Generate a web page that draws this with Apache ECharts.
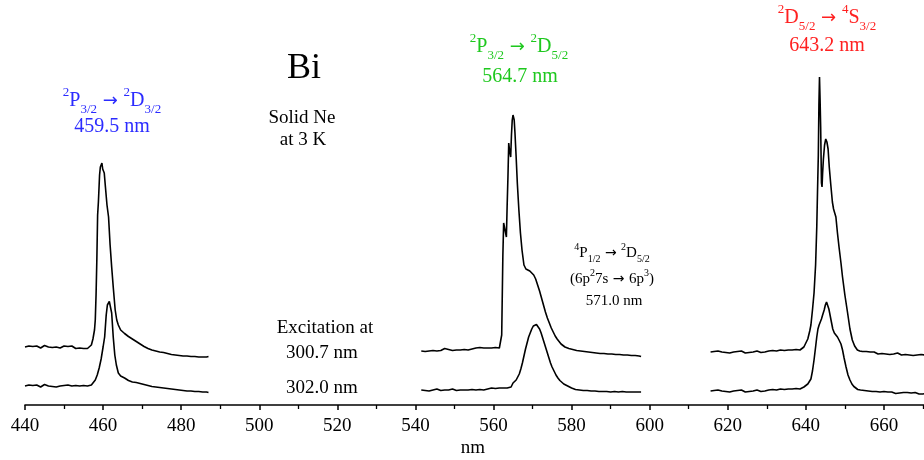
<!DOCTYPE html>
<html>
<head>
<meta charset="utf-8">
<script src="https://cdn.jsdelivr.net/npm/echarts@6/dist/echarts.min.js"></script>
<style>
html,body{margin:0;padding:0;background:#fff;}
#chart{width:924px;height:460px;}
</style>
</head>
<body>
<div id="chart"></div>
<script>
// ---- Data (wavelength nm, intensity in arbitrary units above the axis) ----
const xTicks = [440, 460, 480, 500, 520, 540, 560, 580, 600, 620, 640, 660];

// Excitation 300.7 nm (upper traces)
const upper1 = [[440,58],[440.5,57],[441,59],[441.5,57.5],[442,58.5],[442.5,57],[443,59],[443.5,58],[444,57],[444.5,58.5],[445,59.5],[445.5,57.5],[446,58],[446.5,59],[447,57.5],[447.5,58.5],[448,58],[448.5,59.5],[449,57],[449.5,58],[450,59],[450.5,57.5],[451,58.5],[451.5,57],[452,59],[452.5,58],[453,56.5],[453.5,58],[454,57],[454.5,58.5],[455,56.5],[455.5,57.5],[456,56.5],[456.5,58],[457,60],[457.4,66],[457.8,75],[458,85],[458.2,110],[458.4,145],[458.6,190],[458.8,203],[459,205],[459.1,230],[459.3,238],[459.5,240],[459.7,242],[459.9,236],[460.1,238],[460.3,232],[460.6,218],[461,200],[461.4,188],[461.8,160],[462.2,138],[462.6,118],[463.1,95],[463.5,85],[463.9,80],[464.5,75],[465,73],[465.5,71.5],[466,70],[466.5,68.5],[467,67.5],[467.5,66],[468,65],[468.5,63.5],[469,62],[469.5,61],[470,60],[470.5,58.5],[471,58],[471.5,56.5],[472,56.5],[472.5,55],[473,55.5],[473.5,54],[474,54.5],[474.5,53],[475,53.5],[475.5,52.5],[476,52.5],[476.5,51.5],[477,52],[477.5,50.5],[478,51],[478.5,50],[479,51],[479.5,49.5],[480,50.5],[480.5,49],[481,50],[481.5,49],[482,50],[482.5,48.5],[483,49.5],[483.5,48.5],[484,49.5],[484.5,48],[485,49],[485.5,48],[486,49],[486.5,48],[487,48.5]];

const upper2 = [[541.5,54],[542,55.5],[542.5,53.5],[543,55],[543.5,54],[544,56],[544.5,54.5],[545,55.5],[545.5,54],[546,56],[546.5,54.5],[547,55.5],[547.5,56.5],[548,54.5],[548.5,55.5],[549,56],[549.5,54.5],[550,56.5],[550.5,55],[551,56],[551.5,55],[552,57],[552.5,55.5],[553,56.5],[553.5,55],[554,57],[554.5,56],[555,55],[555.5,57],[556,56],[556.5,57.5],[557,55.5],[557.5,57],[558,56],[558.5,57],[559,55.5],[559.5,57],[560,56.5],[560.5,57.5],[561,56],[561.5,57],[561.9,57],[562.1,70],[562.4,150],[562.6,182],[562.9,184],[563.1,180],[563.3,168],[563.5,200],[563.7,228],[563.9,262],[564.1,255],[564.4,248],[564.6,270],[564.8,285],[565,290],[565.1,292],[565.3,285],[565.5,272],[565.8,248],[566.1,222],[566.5,195],[566.9,172],[567.3,155],[567.8,140],[568.3,136],[568.8,135],[569.3,134],[569.8,133],[570.3,130],[570.8,126],[571.3,120],[571.8,114],[572.3,107],[572.8,100],[573.3,93],[573.8,87],[574.3,82],[574.8,77],[575.3,73],[575.8,69],[576.3,66],[576.8,63.5],[577.3,61],[577.8,59.5],[578.3,58],[578.8,57],[579.3,56.5],[579.8,55],[580.3,55.5],[580.8,54],[581.3,54.5],[581.8,53],[582.3,54],[582.8,52.5],[583.3,53.5],[583.8,52],[584.3,53],[584.8,51.5],[585.3,52.5],[585.8,51],[586.3,52],[586.8,50.5],[587.3,51.5],[587.8,50.5],[588.3,51.5],[588.8,50],[589.3,51],[589.8,50],[590.3,51],[590.8,49.5],[591.3,50.5],[591.8,49.5],[592.3,50.5],[592.8,49],[593.3,50],[593.8,49],[594.3,50],[594.8,48.5],[595.3,49.5],[595.8,48.5],[596.3,49.5],[596.8,48],[597.3,49],[597.8,48.5]];

const upper3 = [[615.6,53],[616,52],[616.5,53.5],[617,52.5],[617.5,54],[618,52],[618.5,53],[619,54],[619.5,52.5],[620,53.5],[620.5,52],[621,54],[621.5,53],[622,52],[622.5,53.5],[623,52.5],[623.5,54],[624,53],[624.5,52],[625,53.5],[625.5,52.5],[626,54],[626.5,53],[627,52],[627.5,54],[628,53],[628.5,52.5],[629,54],[629.5,53],[630,52.5],[630.5,54],[631,53],[631.5,54.5],[632,53],[632.5,54],[633,53.5],[633.5,55],[634,53.5],[634.5,54.5],[635,53.5],[635.5,55],[636,54],[636.5,55],[637,54],[637.5,55.5],[638,54.5],[638.5,55],[639,56],[639.5,58],[640,60],[640.5,66],[641,74],[641.3,80],[641.7,95],[642.1,112],[642.5,140],[642.8,178],[643,215],[643.2,250],[643.35,300],[643.5,328],[643.65,305],[643.8,278],[644,222],[644.15,218],[644.3,232],[644.5,246],[644.8,260],[645.1,266],[645.4,263],[645.7,256],[646,238],[646.4,220],[646.8,203],[647.1,196],[647.4,192],[647.7,188],[648.1,172],[648.5,158],[649,142],[649.4,128],[650,110],[650.7,92],[651.3,76],[651.9,65],[652.5,59],[653.2,55],[653.8,54],[654.5,53.5],[655,52.5],[655.5,53.5],[656,52],[656.5,53],[657,51.5],[657.5,53],[658,52],[658.5,51],[659,52.5],[659.5,51.5],[660,52.5],[660.5,51],[661,52],[661.5,50.5],[662,52],[662.5,51],[663,50.5],[663.5,52],[664,51],[664.5,50],[665,51.5],[665.5,50.5],[666,51.5],[666.5,50],[667,51],[667.5,49.5],[668,51],[668.5,50],[669,49.5],[669.5,50.5],[670,49.5],[670.5,50]];

// Excitation 302.0 nm (lower traces)
const lower1 = [[440,19],[440.5,18],[441,20],[441.5,18.5],[442,19.5],[442.5,18],[443,20],[443.5,19],[444,18],[444.5,19.5],[445,20.5],[445.5,18.5],[446,19],[446.5,20],[447,18.5],[447.5,19.5],[448,18],[448.5,20],[449,19],[449.5,18],[450,19.5],[450.5,18.5],[451,20],[451.5,18],[452,19],[452.5,18.5],[453,19.5],[453.5,18],[454,19],[454.5,18.5],[455,19.5],[455.5,18.5],[456,19],[456.5,19],[457,20],[457.5,22],[458,25],[458.5,30],[459,37],[459.5,46],[460,58],[460.4,68],[460.8,90],[461.1,100],[461.4,102],[461.6,103.5],[461.9,102],[462.2,92],[462.6,68],[463,50],[463.4,40],[463.9,32],[464.5,29],[465,28.5],[465.5,27],[466,25.5],[466.5,24.5],[467,23.5],[467.5,23],[468,22],[468.5,22.5],[469,21],[469.5,21.5],[470,20],[470.5,20.5],[471,19],[471.5,19.5],[472,18],[472.5,18.5],[473,17.5],[473.5,18],[474,17],[474.5,17.5],[475,16.5],[475.5,17],[476,16],[476.5,16.5],[477,15.5],[477.5,16],[478,15],[478.5,15.5],[479,14.5],[479.5,15],[480,14],[480.5,14.5],[481,13.5],[481.5,14],[482,13],[482.5,14],[483,13],[483.5,13.5],[484,12.5],[484.5,13.5],[485,12.5],[485.5,13],[486,12],[486.5,13],[487,12.5]];

const lower2 = [[541.5,15],[542,16],[542.5,14.5],[543,15.5],[543.5,14],[544,16],[544.5,15],[545,14.5],[545.5,16],[546,15],[546.5,14.5],[547,16],[547.5,15],[548,16.5],[548.5,15],[549,14.5],[549.5,16],[550,15.5],[550.5,14.5],[551,16],[551.5,15],[552,16.5],[552.5,15],[553,16],[553.5,15],[554,16.5],[554.5,15.5],[555,16],[555.5,15],[556,17],[556.5,15.5],[557,16.5],[557.5,15],[558,16.5],[558.5,16],[559,15.5],[559.5,17],[560,16],[560.5,16.5],[561,15.5],[561.5,17],[562,16],[562.5,17],[563,16.5],[563.5,17],[564,17.5],[564.5,18],[565,22],[565.4,24],[565.8,25],[566.2,27],[566.6,31],[567,36],[567.4,42],[567.8,49],[568.2,56],[568.6,62],[569,68],[569.4,72],[569.8,76],[570.2,79],[570.6,80],[571,80.5],[571.4,79],[571.8,76],[572.2,72],[572.6,67],[573,62],[573.4,57],[573.8,52],[574.2,47],[574.6,42],[575,38],[575.5,34],[576,30],[576.5,27],[577,24.5],[577.5,22.5],[578,21],[578.5,19.5],[579,19],[579.5,17.5],[580,17],[580.5,16.5],[581,15.5],[581.5,16],[582,15],[582.5,15.5],[583,14.5],[583.5,15.5],[584,14.5],[584.5,15],[585,14],[585.5,15],[586,14],[586.5,14.5],[587,13.5],[587.5,14.5],[588,13.5],[588.5,14.5],[589,13.5],[589.5,14],[590,13],[590.5,14.5],[591,13.5],[591.5,14],[592,13],[592.5,14],[593,13.5],[593.5,14],[594,13],[594.5,14],[595,13],[595.5,14],[596,13],[596.5,14],[597,13],[597.5,13.5],[597.8,13]];

const lower3 = [[615.6,14],[616,13],[616.5,14.5],[617,13.5],[617.5,15],[618,13],[618.5,14],[619,15],[619.5,13.5],[620,14.5],[620.5,13],[621,15],[621.5,14],[622,13],[622.5,14.5],[623,13.5],[623.5,15],[624,14],[624.5,13],[625,14.5],[625.5,13.5],[626,15],[626.5,14],[627,13],[627.5,15],[628,14],[628.5,13.5],[629,15],[629.5,14],[630,13.5],[630.5,15],[631,14],[631.5,15.5],[632,14],[632.5,15],[633,14.5],[633.5,16],[634,14.5],[634.5,15.5],[635,14.5],[635.5,16],[636,15],[636.5,16],[637,15],[637.5,16.5],[638,15.5],[638.5,16],[639,17],[639.5,18],[640,19.5],[640.5,21],[641,23],[641.3,26],[641.7,34],[642.1,45],[642.5,58],[642.8,68],[643.1,76],[643.4,80],[643.7,83],[644,86],[644.3,90],[644.7,95],[645,100],[645.3,103],[645.6,102],[645.9,96],[646.2,90],[646.6,82],[646.9,76],[647.3,72],[647.7,70],[648.1,68],[648.5,65],[649,61],[649.4,55],[649.8,47],[650.3,38],[650.8,30],[651.3,25],[651.8,21],[652.3,18.5],[652.8,17],[653.3,15.5],[654,15],[654.5,14],[655,14.5],[655.5,13],[656,14],[656.5,12.5],[657,13.5],[657.5,12.5],[658,13.5],[658.5,12],[659,13],[659.5,12],[660,13.5],[660.5,12],[661,13],[661.5,11.5],[662,13],[662.5,12],[663,11.5],[663.5,13],[664,12],[664.5,11],[665,12.5],[665.5,11.5],[666,12.5],[666.5,11],[667,12],[667.5,11],[668,12.5],[668.5,11.5],[669,11],[669.5,12],[670,11],[670.5,11.5]];

// ---- Chart ----
const FONT = "'Liberation Serif', 'Times New Roman', serif";
const ARROW_FONT = "'DejaVu Sans', sans-serif";
const chart = echarts.init(document.getElementById('chart'), null, {renderer: 'canvas'});

function lineSeries(data) {
  return {
    type: 'line', data: data, showSymbol: false, symbol: 'none',
    lineStyle: {color: '#000', width: 1.6}, animation: false, silent: true
  };
}

function richStyles(size, subSize, color, lh) {
  return {
    m: {fontSize: size, fontFamily: FONT, fill: color, color: color, verticalAlign: 'middle', lineHeight: lh},
    ar: {fontSize: Math.round(size * 0.9), fontFamily: ARROW_FONT, fill: color, color: color, verticalAlign: 'middle', lineHeight: lh},
    sup: {fontSize: subSize, fontFamily: FONT, fill: color, color: color, verticalAlign: 'top', lineHeight: lh},
    sub: {fontSize: subSize, fontFamily: FONT, fill: color, color: color, verticalAlign: 'bottom', lineHeight: lh}
  };
}

function txt(x, y, text, size, color, rich) {
  const st = {
    text: text, x: x, y: y, fill: color,
    fontSize: size, fontFamily: FONT,
    align: 'center', verticalAlign: 'middle',
    textAlign: 'center', textVerticalAlign: 'middle'
  };
  if (rich) st.rich = rich;
  return {type: 'text', silent: true, style: st};
}

const BLUE = '#2b2bff', GREEN = '#1ec81e', RED = '#ff2020';
const richBlue = richStyles(20, 13, BLUE, 30);
const richGreen = richStyles(20, 13, GREEN, 30);
const richRed = richStyles(20, 13, RED, 30);
const richBlack = richStyles(15, 10, '#000', 22);

chart.setOption({
  backgroundColor: '#fff',
  animation: false,
  grid: {left: 25, width: 937, top: 0, bottom: 55, containLabel: false, outerBoundsMode: 'none'},
  xAxis: {
    type: 'value', min: 440, max: 680, interval: 20,
    axisLine: {show: true, lineStyle: {color: '#000', width: 1.6}},
    axisTick: {show: true, length: 5, lineStyle: {color: '#000', width: 1.5}},
    minorTick: {show: true, splitNumber: 2, length: 4, lineStyle: {color: '#000', width: 1.3}},
    splitLine: {show: false}, minorSplitLine: {show: false},
    axisLabel: {
      margin: 12, fontFamily: FONT, fontSize: 19, color: '#000',
      formatter: function (v) { return xTicks.indexOf(v) >= 0 ? String(v) : ''; }
    }
  },
  yAxis: {
    type: 'value', min: 0, max: 405, show: false,
    splitLine: {show: false}
  },
  series: [
    lineSeries(upper1), lineSeries(upper2), lineSeries(upper3),
    lineSeries(lower1), lineSeries(lower2), lineSeries(lower3)
  ],
  graphic: [
    txt(473, 448, 'nm', 19, '#000'),
    txt(304, 69, 'Bi', 36, '#000'),
    txt(302, 118, 'Solid Ne', 19, '#000'),
    txt(303, 140, 'at 3 K', 19, '#000'),
    txt(325, 328, 'Excitation at', 19, '#000'),
    txt(322, 353, '300.7 nm', 19, '#000'),
    txt(322, 388, '302.0 nm', 19, '#000'),

    txt(112, 101, '{sup|2}{m|P}{sub|3/2}{ar| \u2192 }{sup|2}{m|D}{sub|3/2}', 20, BLUE, richBlue),
    txt(112, 127, '459.5 nm', 20, BLUE),

    txt(519, 47, '{sup|2}{m|P}{sub|3/2}{ar| \u2192 }{sup|2}{m|D}{sub|5/2}', 20, GREEN, richGreen),
    txt(520, 77, '564.7 nm', 20, GREEN),

    txt(827, 18, '{sup|2}{m|D}{sub|5/2}{ar| \u2192 }{sup|4}{m|S}{sub|3/2}', 20, RED, richRed),
    txt(827, 46, '643.2 nm', 20, RED),

    txt(612, 253, '{sup|4}{m|P}{sub|1/2}{ar| \u2192 }{sup|2}{m|D}{sub|5/2}', 15, '#000', richBlack),
    txt(612, 279, '{m|(6p}{sup|2}{m|7s}{ar| \u2192 }{m|6p}{sup|3}{m|)}', 15, '#000', richBlack),
    txt(614, 301, '571.0 nm', 15, '#000')
  ]
});
</script>
</body>
</html>
